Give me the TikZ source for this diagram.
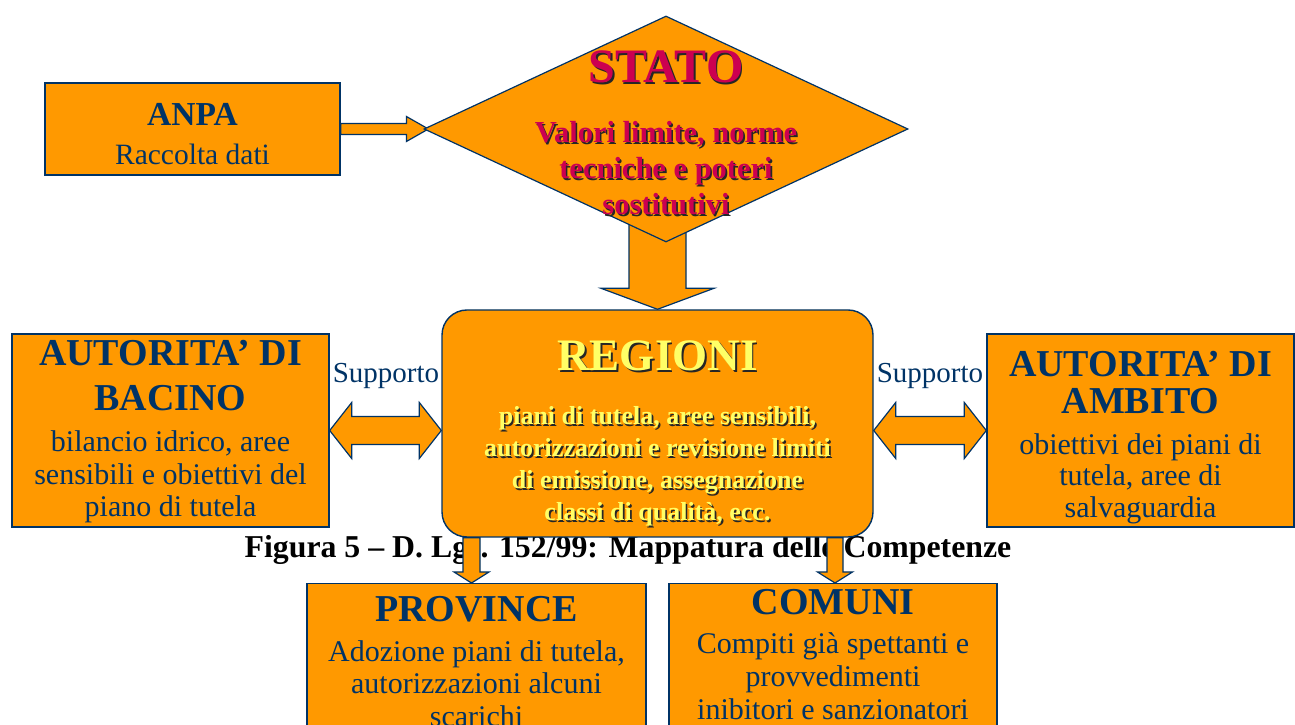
\documentclass[tikz,border=0pt]{standalone}
\usepackage{fontspec}
\setmainfont{Liberation Serif}
\usetikzlibrary{shapes.geometric,calc,backgrounds}
\definecolor{mporange}{HTML}{FF9900}
\definecolor{mpnavy}{HTML}{003366}
\definecolor{mpcrimson}{HTML}{CC0050}
\definecolor{mpyellow}{HTML}{FFFF66}
\newcommand{\shd}[2]{\leavevmode\rlap{\hspace{1.6pt}\raisebox{-1.6pt}{\color{black!85}#2}}{\color{#1}#2}}
\newcommand{\headfont}{\fontsize{38}{44}\selectfont\bfseries}
\newcommand{\bodyfont}{\fontsize{30}{33}\selectfont}
\newcommand{\pushdown}[1]{\rule{0pt}{#1}}
\newcommand{\pushup}[1]{\rule[-#1]{0pt}{1pt}}
\tikzset{
  mpbox/.style      = {draw=mpnavy, fill=mporange, line width=1.4pt, align=center,
                       text=mpnavy, font=\bodyfont, inner xsep=2pt, inner ysep=-10pt},
  statoshape/.style = {draw=mpnavy, fill=mporange, line width=1.2pt, diamond,
                       minimum width=484pt, minimum height=226pt, inner sep=0pt},
  statotext/.style  = {align=center, font=\fontsize{30.5}{36}\selectfont\bfseries},
  regbox/.style     = {mpbox, rounded corners=25pt, font=\fontsize{26}{32}\selectfont\bfseries},
  suplbl/.style     = {text=mpnavy, font=\fontsize{29}{30}\selectfont, inner sep=0pt},
  caption/.style    = {font=\fontsize{31.8}{32}\selectfont\bfseries, inner sep=0pt},
  %
  fatarrow/.style   = {draw=mpnavy, fill=mporange, line width=1.2pt},
  hfat/.style n args = {3}{fatarrow, to path={let \p1=(\tikztostart), \p2=(\tikztotarget) in
      (\x1,{\y1+#1}) -- ({\x2-#3},{\y1+#1}) -- ({\x2-#3},{\y1+#2}) -- (\x2,\y1)
      -- ({\x2-#3},{\y1-#2}) -- ({\x2-#3},{\y1-#1}) -- (\x1,{\y1-#1}) -- cycle}},
  dfat/.style n args = {3}{fatarrow, to path={let \p1=(\tikztostart), \p2=(\tikztotarget) in
      (\x1,\y1) -- ({\x1+#3},{\y1+#2}) -- ({\x1+#3},{\y1+#1}) -- ({\x2-#3},{\y1+#1})
      -- ({\x2-#3},{\y1+#2}) -- (\x2,\y1) -- ({\x2-#3},{\y1-#2}) -- ({\x2-#3},{\y1-#1})
      -- ({\x1+#3},{\y1-#1}) -- ({\x1+#3},{\y1-#2}) -- cycle}},
  vfat/.style n args = {3}{fatarrow, to path={let \p1=(\tikztostart), \p2=(\tikztotarget) in
      ({\x1-#1},\y1) -- ({\x1-#1},{\y2+#3}) -- ({\x1-#2},{\y2+#3}) -- (\x1,\y2)
      -- ({\x1+#2},{\y2+#3}) -- ({\x1+#1},{\y2+#3}) -- ({\x1+#1},\y1) -- cycle}},
}

\begin{document}
\begin{tikzpicture}[x=1pt, y=1pt]
  \useasboundingbox (0,0) rectangle (1295,725);

  % ---------- top row ----------------------------------------------------
  \node[mpbox, minimum width=295pt, minimum height=92pt] (anpa) at (192.5,596)
    {\pushdown{32pt}{\fontsize{33.5}{39}\selectfont\bfseries ANPA}\\[6pt]
     {\fontsize{29.5}{33}\selectfont Raccolta dati}};
  \node[statoshape] (stato) at (666,596) {};
  \node[statotext] (statot) at (666,591)
    {{\fontsize{48}{48}\selectfont\shd{mpcrimson}{STATO}}\\[24pt]
     \shd{mpcrimson}{Valori limite, norme}\\
     \shd{mpcrimson}{tecniche e poteri}\\
     \shd{mpcrimson}{sostitutivi}};

  % ---------- middle row -------------------------------------------------
  \node[mpbox, font=\fontsize{30}{32.5}\selectfont, minimum width=317pt,
        minimum height=193pt] (bac) at (170.5,294.5)
    {\pushdown{28pt}{\headfont AUTORITA’ DI}\\[12pt] {\headfont BACINO}\\[9pt]
     bilancio idrico, aree\\ sensibili e obiettivi del\\ piano di tutela};
  \node[regbox, minimum width=431pt, minimum height=227pt] (reg) at (657.5,301.5)
    {\pushdown{52pt}{\fontsize{45}{45}\selectfont\shd{mpyellow}{REGIONI}}\\[22pt]
     \shd{mpyellow}{piani di tutela, aree sensibili,}\\
     \shd{mpyellow}{autorizzazioni e revisione limiti}\\
     \shd{mpyellow}{di emissione, assegnazione}\\
     \shd{mpyellow}{classi di qualità, ecc.}};
  \node[mpbox, font=\fontsize{30}{31.5}\selectfont, minimum width=307pt,
        minimum height=193pt] (amb) at (1140.5,294.5)
    {\pushdown{39pt}{\headfont AUTORITA’ DI}\\[6pt] {\headfont AMBITO}\\[9pt]
     obiettivi dei piani di\\ tutela, aree di\\ salvaguardia};
  \node[suplbl] (supl) at (386,349) {Supporto};
  \node[suplbl] (supr) at (930,349) {Supporto};

  % ---------- bottom row -------------------------------------------------
  \node[mpbox, font=\fontsize{30}{32.5}\selectfont, anchor=north, minimum width=339pt,
        minimum height=150pt] (prov) at (476.5,142)
    {\pushdown{31pt}{\headfont PROVINCE}\\[7pt] Adozione piani di tutela,\\
     autorizzazioni alcuni\\ scarichi};
  \node[mpbox, anchor=north, minimum width=328pt, minimum height=150pt] (com) at (833,142)
    {{\headfont COMUNI}\\[6pt] Compiti già spettanti e\\ provvedimenti\\
     inibitori e sanzionatori\pushup{8pt}};

  % ---------- caption and block arrows -----------------------------------
  \begin{scope}[on background layer]
    \node[caption] (cap) at (628,175)
      {Figura 5 – D. Lgs. 152/99: Mappatura delle Competenze};
    \draw[hfat={5.5pt}{12.5pt}{22pt}] (anpa.east) to ([xshift=5pt]stato.west);
    \draw[vfat={28.5pt}{56.5pt}{21pt}] (stato.center -| reg.north) to (reg.north);
    \draw[dfat={14pt}{28pt}{22pt}] (bac.east) to (reg.west);
    \draw[dfat={14pt}{28pt}{22pt}] (reg.east |- amb.west) to (amb.west);
    \draw[vfat={8.5pt}{17.5pt}{11pt}] ([xshift=-186pt]reg.south) to (prov.north);
    \draw[vfat={8pt}{17.5pt}{11pt}] ([xshift=177.5pt]reg.south) to (com.north);
  \end{scope}

\end{tikzpicture}
\end{document}
